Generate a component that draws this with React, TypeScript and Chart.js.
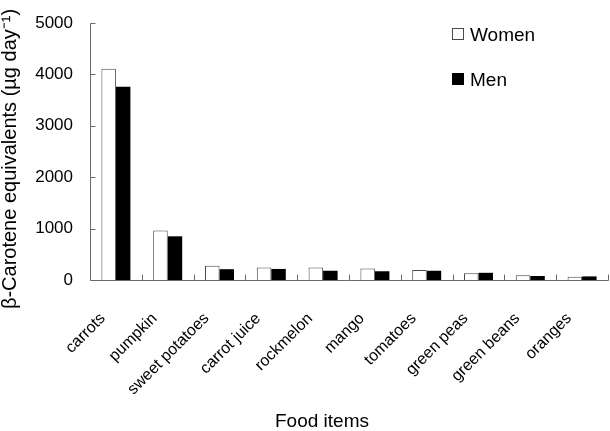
import React, { useEffect, useRef } from 'react';
import { Chart, registerables } from 'chart.js';

Chart.register(...registerables);

const foodItems = [
  'carrots',
  'pumpkin',
  'sweet potatoes',
  'carrot juice',
  'rockmelon',
  'mango',
  'tomatoes',
  'green peas',
  'green beans',
  'oranges',
];
const womenValues = [4110, 965, 275, 245, 245, 225, 195, 130, 90, 65];
const menValues = [3760, 850, 210, 215, 180, 170, 180, 140, 78, 70];
const yTickValues = [0, 1000, 2000, 3000, 4000, 5000];

const xAxisTitle = 'Food items';
const yAxisTitle = 'β-Carotene equivalents (µg day⁻¹)';

const FONT = "'Liberation Sans', Arial, sans-serif";
const AXIS_COLOR = '#6a6a6a';

// Axis lines with short inward tick marks
const axesPlugin = {
  id: 'axesInward',
  afterDatasetsDraw(chart: any) {
    const { ctx, chartArea, scales } = chart;
    const xs = scales.x;
    const ys = scales.y;
    const left = Math.round(chartArea.left) + 0.5;
    const bottom = Math.round(chartArea.bottom) + 0.5;
    ctx.save();
    ctx.strokeStyle = AXIS_COLOR;
    ctx.lineWidth = 1;
    ctx.beginPath();
    ctx.moveTo(left, Math.round(ys.getPixelForValue(yTickValues[yTickValues.length - 1])) + 0.5);
    ctx.lineTo(left, bottom);
    ctx.lineTo(Math.round(chartArea.right) + 0.5, bottom);
    yTickValues.forEach((v) => {
      const py = Math.round(ys.getPixelForValue(v)) + 0.5;
      ctx.moveTo(left, py);
      ctx.lineTo(left + 5, py);
    });
    const half = (xs.getPixelForValue(1) - xs.getPixelForValue(0)) / 2;
    for (let i = 0; i < foodItems.length; i++) {
      const px = Math.round(xs.getPixelForValue(i) + half) + 0.5;
      ctx.moveTo(px, bottom);
      ctx.lineTo(px, bottom - 6);
    }
    ctx.stroke();
    ctx.restore();
  },
};

// Slanted category labels, axis titles and the legend in the upper right
const annotationsPlugin = {
  id: 'titlesAndLegend',
  afterDraw(chart: any) {
    const { ctx, chartArea, scales } = chart;
    const xs = scales.x;
    ctx.save();
    ctx.fillStyle = '#000';

    // category labels at 45 degrees, ending just left of each category centre
    ctx.font = `16px ${FONT}`;
    ctx.textAlign = 'right';
    ctx.textBaseline = 'middle';
    foodItems.forEach((name, i) => {
      ctx.save();
      ctx.translate(xs.getPixelForValue(i) - 13, chartArea.bottom + 36);
      ctx.rotate(-Math.PI / 4);
      ctx.fillText(name, 0, 0);
      ctx.restore();
    });

    ctx.textBaseline = 'alphabetic';
    ctx.font = `19px ${FONT}`;
    ctx.textAlign = 'center';
    ctx.fillText(xAxisTitle, 322, 427);

    ctx.save();
    ctx.translate(16, 159);
    ctx.rotate(-Math.PI / 2);
    ctx.font = `20px ${FONT}`;
    ctx.fillText(yAxisTitle, 0, 0);
    ctx.restore();

    const rows = [
      { y: 28, ds: chart.data.datasets[0] },
      { y: 73, ds: chart.data.datasets[1] },
    ];
    rows.forEach((r) => {
      ctx.fillStyle = r.ds.backgroundColor;
      ctx.fillRect(452, r.y, 12, 12);
      ctx.strokeStyle = r.ds.borderColor;
      ctx.lineWidth = 1;
      ctx.strokeRect(452.5, r.y + 0.5, 11, 11);
      ctx.fillStyle = '#000';
      ctx.font = `19px ${FONT}`;
      ctx.textAlign = 'left';
      ctx.fillText(r.ds.label, 470, r.y + 13);
    });
    ctx.restore();
  },
};

export default function App() {
  const canvasRef = useRef<HTMLCanvasElement>(null);

  useEffect(() => {
    if (!canvasRef.current) return;
    const chart = new Chart(canvasRef.current, {
      type: 'bar',
      data: {
        labels: foodItems,
        datasets: [
          {
            label: 'Women',
            data: womenValues,
            backgroundColor: '#ffffff',
            borderColor: '#4a4a4a',
            borderWidth: 1,
            borderSkipped: 'bottom',
            categoryPercentage: 0.56,
            barPercentage: 1,
          },
          {
            label: 'Men',
            data: menValues,
            backgroundColor: '#000000',
            borderColor: '#000000',
            borderWidth: 0,
            categoryPercentage: 0.56,
            barPercentage: 1,
          },
        ],
      },
      options: {
        responsive: false,
        animation: false,
        layout: { padding: { top: 23, right: 2, left: 0, bottom: 0 } },
        plugins: {
          legend: { display: false },
          tooltip: { enabled: false },
        },
        scales: {
          x: {
            grid: { display: false, drawTicks: false },
            border: { display: false },
            ticks: { display: false },
            afterFit: (s: any) => {
              s.height = 151;
            },
          },
          y: {
            min: 0,
            max: 5000,
            // tick marks are drawn by axesPlugin; tickLength only spaces the labels
            grid: { display: false, drawTicks: true, tickLength: 17 },
            border: { display: false },
            afterBuildTicks: (s: any) => {
              s.ticks = yTickValues.map((v) => ({ value: v }));
            },
            ticks: {
              color: '#000',
              font: { family: FONT, size: 17 },
              padding: 0,
              callback: (v: any) => String(v),
            },
            afterFit: (s: any) => {
              s.width = 90;
            },
          },
        },
      },
      plugins: [axesPlugin, annotationsPlugin],
    });
    return () => chart.destroy();
  }, []);

  return (
    <div style={{ position: 'absolute', left: 0, top: 0, width: 610, height: 431, background: '#fff' }}>
      <canvas ref={canvasRef} width={610} height={431} />
    </div>
  );
}
